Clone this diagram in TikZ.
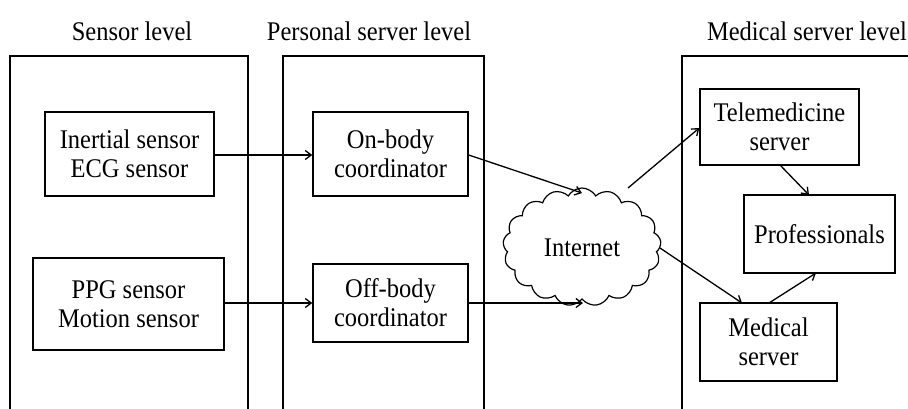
\documentclass[tikz,border=0pt]{standalone}
\usepackage{fontspec}
\setmainfont{Liberation Serif}
\usetikzlibrary{shapes.symbols,arrows.meta}
\newcommand\tx[1]{\raisebox{-3.5pt}[\height][\depth]{\scalebox{1}[1.1]{\begin{tabular}{@{}c@{}}#1\end{tabular}}}}
\begin{document}
\begin{tikzpicture}[x=1pt,y=-1pt,
  every node/.style={font=\fontsize{24.5}{26}\selectfont},
  box/.style={draw,line width=1.4pt,inner sep=0pt,align=center,anchor=center},
  lane/.style={draw,line width=1.4pt},
  title/.style={inner sep=0pt,anchor=base},
  arr/.style={draw,line width=1.3pt,-{Straight Barb[length=6pt,width=9pt,line width=1.3pt]}},
  netcloud/.style={draw,cloud,cloud puffs=17,cloud puff arc=120,aspect=1.4,line width=1.2pt,inner sep=0pt,minimum width=158pt,minimum height=118pt}]
\useasboundingbox[fill=white] (0,0) rectangle (908,408);
% lanes
\draw[lane] (10,410) -- (10,56) -- (248,56) -- (248,410);
\draw[lane] (283,410) -- (283,56) -- (484,56) -- (484,410);
\draw[lane] (682,410) -- (682,56) -- (912,56);
% titles
\node[title] (t1) at (132,38) {\tx{Sensor level}};
\node[title] (t2) at (369,38) {\tx{Personal server level}};
\node[title] (t3) at (807,38) {\tx{Medical server level}};
% boxes
\node[box,minimum width=169pt,minimum height=84pt] (ine) at (129.5,154) {\tx{Inertial sensor\\ECG sensor}};
\node[box,minimum width=191pt,minimum height=92pt] (ppg) at (128.5,304) {\tx{PPG sensor\\Motion sensor}};
\node[box,minimum width=155pt,minimum height=84pt] (on) at (390.5,154) {\tx{On-body\\coordinator}};
\node[box,minimum width=155pt,minimum height=78pt] (off) at (390.5,303) {\tx{Off-body\\coordinator}};
\node[netcloud] (net) at (582,247) {\tx{Internet}};
\node[box,minimum width=159pt,minimum height=76pt] (tele) at (779.5,127) {\tx{Telemedicine\\server}};
\node[box,minimum width=151pt,minimum height=78pt] (prof) at (819.5,234) {\tx{Professionals}};
\node[box,minimum width=137pt,minimum height=78pt] (med) at (768.5,342) {\tx{Medical\\server}};
% connectors
\coordinate (netN) at (582,193);
\coordinate (netS) at (583,303);
\coordinate (netNE) at (628,188);
\coordinate (netE) at (660,248);
\path[arr] (ine.east |- 0,155) -- (on.west |- 0,155);
\path[arr] (ppg.east |- 0,303) -- (off.west |- 0,303);
\path[arr] (on.east |- 0,155) -- (netN);
\path[arr] (off.east |- 0,303) -- (netS);
\path[arr] (netNE) -- (tele.west |- 0,128);
\path[arr] (netE) -- (742,303);
\path[arr] (780,165) -- (809,195);
\path[arr] (769,303) -- (816,273);
\end{tikzpicture}
\end{document}
